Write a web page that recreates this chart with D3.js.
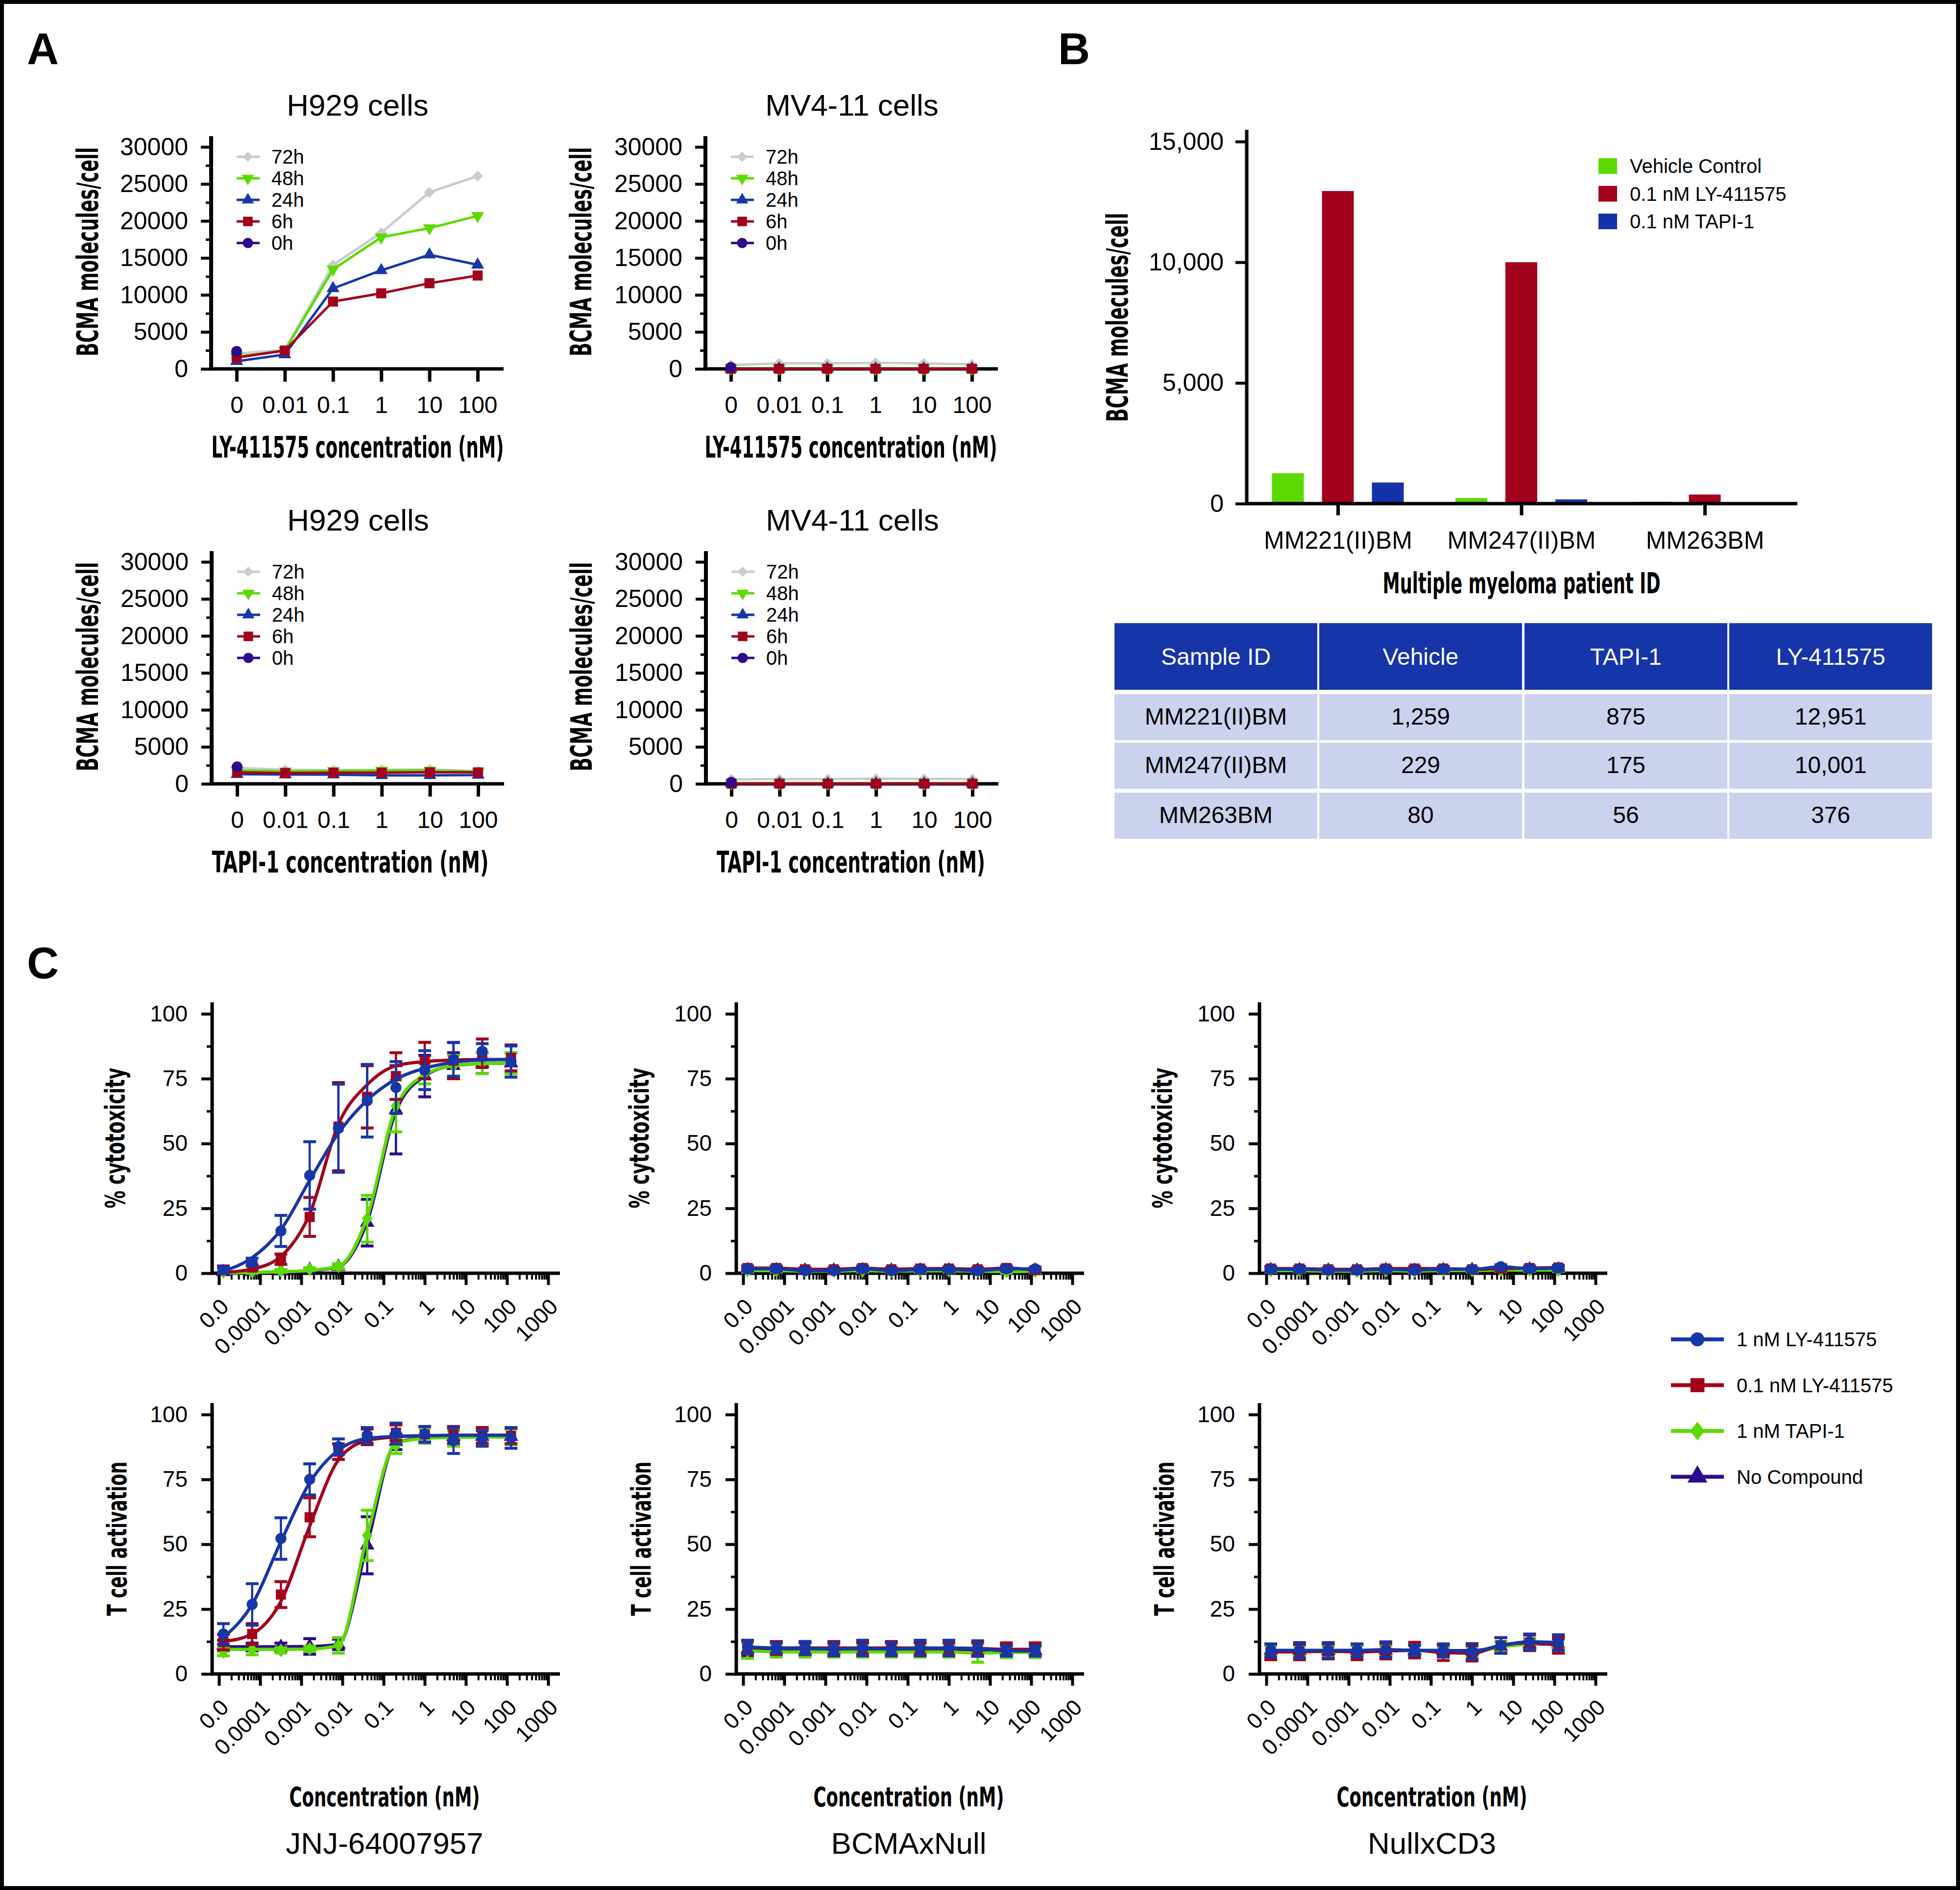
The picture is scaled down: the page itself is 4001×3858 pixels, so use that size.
<!DOCTYPE html>
<html>
<head>
<meta charset="utf-8">
<script src="https://cdn.jsdelivr.net/npm/d3@7"></script>
<style>html,body{margin:0;padding:0;background:#fff;} svg{display:block;}</style>
</head>
<body>
<svg id="fig" width="4001" height="3858" xmlns="http://www.w3.org/2000/svg"></svg>
<script>
// ================= DATA =================
// ---- Panel A : BCMA molecules/cell vs concentration ----
const concA = ["0", "0.01", "0.1", "1", "10", "100"];
const timeLabels = ["72h", "48h", "24h", "6h", "0h"];
const yTicksA = [0, 5000, 10000, 15000, 20000, 25000, 30000];

const h929LY_72h = [2070, 2570, 14070, 18400, 23870, 26070];
const h929LY_48h = [1650, 2480, 13450, 17790, 19030, 20690];
const h929LY_24h = [1030, 1940, 10880, 13320, 15430, 14070];
const h929LY_6h  = [1530, 2480, 9100, 10220, 11580, 12620];
const h929LY_0h  = [2360];

const mv411LY_72h = [530, 740, 740, 825, 740, 620];
const mv411LY_48h = [80, 60, 70, 60, 70, 60];
const mv411LY_24h = [40, 30, 40, 30, 40, 30];
const mv411LY_6h  = [20, 20, 20, 20, 20, 20];
const mv411LY_0h  = [200];

const h929TAPI_72h = [2150, 1900, 1850, 1900, 1950, 1700];
const h929TAPI_48h = [1800, 1700, 1750, 1800, 1800, 1650];
const h929TAPI_24h = [1300, 1250, 1250, 1150, 1150, 1200];
const h929TAPI_6h  = [1550, 1450, 1500, 1500, 1550, 1550];
const h929TAPI_0h  = [2300];

const mv411TAPI_72h = [600, 640, 650, 700, 680, 650];
const mv411TAPI_48h = [80, 60, 70, 60, 70, 60];
const mv411TAPI_24h = [40, 30, 40, 30, 40, 30];
const mv411TAPI_6h  = [20, 20, 20, 20, 20, 20];
const mv411TAPI_0h  = [200];

// ---- Panel B : patient samples ----
const patients = ["MM221(II)BM", "MM247(II)BM", "MM263BM"];
const bSeries = ["Vehicle Control", "0.1 nM LY-411575", "0.1 nM TAPI-1"];
const vehicleVals = [1259, 229, 80];
const lyVals = [12951, 10001, 376];
const tapiVals = [875, 175, 56];
const yTicksB = [0, 5000, 10000, 15000];
const tableHeader = ["Sample ID", "Vehicle", "TAPI-1", "LY-411575"];

// ---- Panel C : dose response ----
const concC = [0.0000128, 0.000064, 0.00032, 0.0016, 0.008, 0.04, 0.2, 1, 5, 25, 125];
const seriesC = ["1 nM LY-411575", "0.1 nM LY-411575", "1 nM TAPI-1", "No Compound"];
const xTickValsC = [1e-5, 1e-4, 1e-3, 1e-2, 1e-1, 1, 10, 100, 1000];
const xTickLabelsC = ["0.0", "0.0001", "0.001", "0.01", "0.1", "1", "10", "100", "1000"];
const yTicksC = [0, 25, 50, 75, 100];

// JNJ-64007957 – % cytotoxicity
const jnjCyt_ly1     = [1.3, 4.3, 16.3, 37.7, 55.9, 66.5, 71.6, 78.3, 82.4, 85.5, 81.6];
const jnjCyt_ly1Err  = [1.0, 1.5, 6.0, 13.0, 17.0, 14.0, 10.0, 7.5, 6.5, 3.0, 6.0];
const jnjCyt_ly1Fit  = [0.8, 6.0, 16.8, 35.8, 54.0, 66.7, 74.8, 79.0, 81.3, 82.2, 82.4];
const jnjCyt_ly01    = [1.3, 2.2, 5.4, 21.7, 56.5, 68.0, 76.0, 82.0, 82.0, 84.8, 83.0];
const jnjCyt_ly01Err = [1.5, 1.0, 2.0, 7.5, 17.0, 12.0, 9.0, 7.0, 7.0, 5.5, 5.0];
const jnjCyt_ly01Fit = [0.3, 1.6, 6.5, 22.8, 57.5, 72.7, 80.0, 81.6, 82.2, 82.4, 82.4];
const jnjCyt_tapi    = [0.5, 0.5, 0.9, 1.6, 2.7, 21.0, 64.5, 77.0, 80.0, 81.0, 81.0];
const jnjCyt_tapiErr = [0.5, 0.5, 0.5, 0.5, 1.0, 9.0, 10.0, 4.0, 4.0, 4.0, 4.0];
const jnjCyt_tapiFit = [0.0, 0.3, 0.5, 1.1, 2.7, 21.7, 64.0, 76.5, 80.0, 80.8, 81.0];
const jnjCyt_none    = [0.5, 0.5, 0.8, 1.4, 2.5, 19.5, 63.0, 76.0, 80.0, 81.0, 81.0];
const jnjCyt_noneErr = [0.5, 0.5, 0.5, 0.5, 1.0, 9.0, 17.0, 8.0, 5.0, 4.0, 4.0];
const jnjCyt_noneFit = [0.0, 0.3, 0.5, 1.0, 2.5, 20.0, 62.5, 76.0, 80.0, 80.8, 81.0];

// JNJ-64007957 – T cell activation
const jnjAct_ly1     = [15.4, 26.8, 52.2, 75.0, 87.6, 92.0, 92.7, 92.4, 90.0, 90.8, 91.0];
const jnjAct_ly1Err  = [4.0, 8.0, 8.0, 6.0, 3.0, 3.0, 4.0, 3.0, 5.0, 3.0, 4.0];
const jnjAct_ly1Fit  = [14.0, 26.8, 51.0, 73.7, 86.3, 90.8, 91.6, 91.9, 92.0, 92.0, 92.0];
const jnjAct_ly01    = [12.3, 15.4, 30.6, 60.4, 85.7, 91.4, 93.0, 92.4, 92.4, 92.0, 91.8];
const jnjAct_ly01Err = [3.0, 4.0, 5.0, 7.5, 3.0, 3.0, 3.0, 3.0, 3.0, 3.0, 3.0];
const jnjAct_ly01Fit = [12.5, 15.4, 28.0, 57.0, 82.5, 90.0, 91.4, 91.8, 92.0, 92.0, 92.0];
const jnjAct_tapi    = [8.5, 9.4, 9.1, 9.7, 11.0, 53.4, 88.0, 92.0, 90.8, 91.4, 91.4];
const jnjAct_tapiErr = [1.5, 2.0, 1.0, 1.0, 3.0, 9.7, 3.0, 3.0, 3.0, 3.0, 3.0];
const jnjAct_tapiFit = [9.5, 9.5, 9.5, 9.6, 11.0, 53.4, 88.9, 90.8, 91.2, 91.3, 91.3];
const jnjAct_none    = [11.0, 10.4, 10.4, 10.6, 11.4, 49.6, 89.5, 92.0, 91.5, 91.5, 91.5];
const jnjAct_noneErr = [2.0, 1.5, 1.5, 3.0, 2.0, 11.0, 3.0, 3.0, 3.0, 3.0, 3.0];
const jnjAct_noneFit = [10.5, 10.5, 10.5, 10.6, 11.4, 50.0, 89.0, 91.0, 91.3, 91.4, 91.4];

// BCMAxNull
const bcmaCyt_ly1     = [1.7, 1.7, 1.0, 1.0, 1.7, 1.0, 1.4, 1.4, 1.0, 1.7, 1.7];
const bcmaCyt_ly1Err  = [0.8, 0.8, 0.6, 0.6, 0.8, 0.6, 0.6, 0.6, 0.6, 0.8, 0.6];
const bcmaCyt_ly01    = [2.0, 2.0, 1.5, 1.5, 2.0, 1.5, 1.8, 1.8, 1.5, 2.0, 1.2];
const bcmaCyt_ly01Err = [0.8, 0.8, 0.6, 0.6, 0.8, 0.6, 0.6, 0.6, 0.6, 0.8, 0.6];
const bcmaCyt_tapi    = [1.0, 1.0, 0.8, 0.8, 1.0, 0.8, 0.9, 0.9, 0.8, 0.6, 0.8];
const bcmaCyt_tapiErr = [0.5, 0.5, 0.5, 0.5, 0.5, 0.5, 0.5, 0.5, 0.5, 0.5, 0.5];
const bcmaCyt_none    = [1.2, 1.2, 1.0, 1.0, 1.2, 1.0, 1.1, 1.1, 1.0, 1.0, 1.0];
const bcmaCyt_noneErr = [0.5, 0.5, 0.5, 0.5, 0.5, 0.5, 0.5, 0.5, 0.5, 0.5, 0.5];

const bcmaAct_ly1     = [10.5, 10.0, 10.0, 9.5, 10.0, 9.5, 10.0, 10.0, 9.8, 8.9, 8.9];
const bcmaAct_ly1Err  = [2.5, 2.0, 2.5, 2.5, 3.0, 2.5, 3.0, 3.0, 3.0, 2.0, 2.0];
const bcmaAct_ly01    = [10.2, 10.0, 10.0, 10.0, 10.0, 10.0, 10.0, 9.8, 9.8, 9.5, 9.5];
const bcmaAct_ly01Err = [2.5, 2.5, 2.5, 2.5, 2.5, 2.5, 2.5, 2.5, 2.5, 2.5, 2.5];
const bcmaAct_tapi    = [9.0, 8.5, 8.5, 8.5, 8.5, 8.5, 8.5, 8.5, 8.0, 8.3, 8.3];
const bcmaAct_tapiErr = [3.0, 2.0, 2.0, 2.0, 2.0, 2.0, 2.0, 2.0, 3.5, 2.0, 2.0];
const bcmaAct_none    = [9.5, 9.5, 9.5, 9.3, 9.5, 9.5, 9.5, 9.5, 9.3, 9.0, 9.0];
const bcmaAct_noneErr = [2.5, 2.5, 2.5, 2.5, 2.5, 2.5, 2.5, 2.5, 2.5, 2.5, 2.5];

// NullxCD3
const nullCyt_ly1     = [1.5, 1.5, 1.2, 1.2, 1.5, 1.2, 1.5, 1.5, 2.5, 1.8, 2.0];
const nullCyt_ly1Err  = [0.8, 0.8, 0.6, 0.6, 0.8, 0.6, 0.6, 0.6, 0.8, 0.8, 0.8];
const nullCyt_ly01    = [1.8, 1.8, 1.5, 1.5, 1.8, 1.8, 1.8, 1.5, 1.8, 2.0, 2.2];
const nullCyt_ly01Err = [0.8, 0.8, 0.6, 0.6, 0.8, 0.8, 0.8, 0.6, 0.8, 0.8, 0.8];
const nullCyt_tapi    = [1.0, 1.0, 0.8, 0.8, 1.0, 0.8, 1.0, 1.0, 1.2, 1.2, 1.2];
const nullCyt_tapiErr = [0.5, 0.5, 0.5, 0.5, 0.5, 0.5, 0.5, 0.5, 0.5, 0.5, 0.5];
const nullCyt_none    = [1.2, 1.2, 1.0, 1.0, 1.2, 1.0, 1.2, 1.2, 1.5, 1.5, 1.5];
const nullCyt_noneErr = [0.5, 0.5, 0.5, 0.5, 0.5, 0.5, 0.5, 0.5, 0.5, 0.5, 0.5];

const nullAct_ly1     = [9.1, 9.1, 9.1, 9.1, 9.4, 9.1, 9.1, 8.7, 11.0, 12.4, 12.1];
const nullAct_ly1Err  = [2.5, 3.0, 3.0, 2.5, 3.0, 2.0, 2.5, 3.0, 3.0, 3.0, 3.0];
const nullAct_ly01    = [8.5, 8.5, 8.8, 8.5, 8.8, 9.2, 8.2, 8.0, 11.0, 12.0, 11.0];
const nullAct_ly01Err = [3.0, 3.0, 3.0, 3.0, 3.0, 3.0, 3.0, 3.0, 3.0, 3.0, 3.0];
const nullAct_tapi    = [9.0, 9.0, 8.5, 9.0, 9.0, 9.0, 8.5, 8.5, 10.5, 11.5, 12.0];
const nullAct_tapiErr = [2.0, 2.0, 2.0, 2.0, 2.0, 2.0, 2.0, 2.0, 2.0, 2.0, 2.0];
const nullAct_none    = [9.0, 9.0, 9.0, 9.0, 9.0, 9.0, 9.0, 9.0, 10.5, 11.5, 11.5];
const nullAct_noneErr = [2.0, 2.0, 2.0, 2.0, 2.0, 2.0, 2.0, 2.0, 2.0, 2.0, 2.0];

// ================= STYLE =================
const FONT = "'Liberation Sans', Arial, Helvetica, sans-serif";
const COND = "'Liberation Sans Narrow', 'DejaVu Sans Condensed', 'Liberation Sans', sans-serif";
const GRAY = "#C8CCD2", GREEN = "#5CDA00", BLUE = "#1736A8", RED = "#A3001B", PURPLE = "#2E0A8C";

const diamondSq = {draw(ctx, size){const r = Math.sqrt(size/2); ctx.moveTo(0,-r); ctx.lineTo(r,0); ctx.lineTo(0,r); ctx.lineTo(-r,0); ctx.closePath();}};
const diamondTall = {draw(ctx, size){const a = Math.sqrt(size/2.6), b = 1.3*a; ctx.moveTo(0,-b); ctx.lineTo(a,0); ctx.lineTo(0,b); ctx.lineTo(-a,0); ctx.closePath();}};
const triUp = {draw(ctx, size){const y = -Math.sqrt(size/(Math.sqrt(3)*3)); ctx.moveTo(0, y*2); ctx.lineTo(-Math.sqrt(3)*y, -y); ctx.lineTo(Math.sqrt(3)*y, -y); ctx.closePath();}};
const triDown = {draw(ctx, size){const y = -Math.sqrt(size/(Math.sqrt(3)*3)); ctx.moveTo(0, -y*2); ctx.lineTo(-Math.sqrt(3)*y, y); ctx.lineTo(Math.sqrt(3)*y, y); ctx.closePath();}};

const styleA = {
  "72h": {color: GRAY, sym: diamondSq, size: 250},
  "48h": {color: GREEN, sym: triDown, size: 300},
  "24h": {color: BLUE, sym: triUp, size: 300},
  "6h":  {color: RED, sym: d3.symbolSquare, size: 420},
  "0h":  {color: PURPLE, sym: d3.symbolCircle, size: 380}
};
const styleC = {
  "1 nM LY-411575":   {color: BLUE, sym: d3.symbolCircle, size: 400, lsize: 640},
  "0.1 nM LY-411575": {color: RED, sym: d3.symbolSquare, size: 430, lsize: 820},
  "1 nM TAPI-1":      {color: GREEN, sym: diamondTall, size: 300, lsize: 560},
  "No Compound":      {color: PURPLE, sym: triUp, size: 380, lsize: 720}
};
const colorB = {"Vehicle Control": GREEN, "0.1 nM LY-411575": RED, "0.1 nM TAPI-1": "#1533A8"};

const svg = d3.select("#fig");
svg.append("rect").attr("width", 4001).attr("height", 3858).attr("fill", "#fff");

function styleAxis(sel, fs, tw){
  sel.select(".domain").remove();
  sel.attr("font-family", FONT).attr("font-size", fs);
  sel.selectAll("line").attr("stroke", "#000").attr("stroke-width", tw || 6);
  sel.selectAll("text").attr("fill", "#000");
}
function condText(g, x, y, str, len, size, rot){
  const t = g.append("text").attr("font-family", COND).attr("font-weight", "bold")
    .attr("font-size", size).attr("text-anchor", "middle")
    .attr("textLength", len).attr("lengthAdjust", "spacingAndGlyphs").attr("fill", "#000").text(str);
  if (rot) t.attr("transform", `translate(${x},${y}) rotate(-90)`);
  else t.attr("x", x).attr("y", y);
  return t;
}
function marker(g, x, y, st, size){
  return g.append("path").attr("d", d3.symbol().type(st.sym).size(size)())
    .attr("transform", `translate(${x},${y})`).attr("fill", st.color);
}

// ================= PANEL LETTERS =================
[["A", 55, 131], ["B", 2160, 131], ["C", 55, 1997]].forEach(([t, x, y]) => {
  svg.append("text").attr("x", x).attr("y", y).attr("font-family", FONT).attr("font-weight", "bold")
    .attr("font-size", 90).text(t);
});

// ================= PANEL A =================
const panelsA = [
  {title: "H929 cells", xlabel: "LY-411575 concentration (nM)", series: [h929LY_72h, h929LY_48h, h929LY_24h, h929LY_6h, h929LY_0h], ax: 431, zy: 753, xlc: 730, xlLen: 597, ylx: 200},
  {title: "MV4-11 cells", xlabel: "LY-411575 concentration (nM)", series: [mv411LY_72h, mv411LY_48h, mv411LY_24h, mv411LY_6h, mv411LY_0h], ax: 1440, zy: 753, xlc: 1737, xlLen: 597, ylx: 1207},
  {title: "H929 cells", xlabel: "TAPI-1 concentration (nM)", series: [h929TAPI_72h, h929TAPI_48h, h929TAPI_24h, h929TAPI_6h, h929TAPI_0h], ax: 432, zy: 1600, xlc: 715, xlLen: 565, ylx: 200},
  {title: "MV4-11 cells", xlabel: "TAPI-1 concentration (nM)", series: [mv411TAPI_72h, mv411TAPI_48h, mv411TAPI_24h, mv411TAPI_6h, mv411TAPI_0h], ax: 1441, zy: 1600, xlc: 1737, xlLen: 548, ylx: 1208}
];
const yMinorA = d3.range(2500, 30000, 5000);

panelsA.forEach(p => {
  const g = svg.append("g");
  const x = d3.scalePoint().domain(concA).range([p.ax + 52, p.ax + 544]);
  const y = d3.scaleLinear().domain([0, 30000]).range([p.zy, p.zy - 453]);

  g.append("text").attr("x", p.ax + 299).attr("y", p.zy - 517).attr("text-anchor", "middle")
    .attr("font-family", FONT).attr("font-size", 62).text(p.title);

  const ya = g.append("g").attr("transform", `translate(${p.ax},0)`)
    .call(d3.axisLeft(y).tickValues(yTicksA).tickSize(21).tickPadding(26).tickFormat(d3.format("d")));
  styleAxis(ya, 50);
  const ym = g.append("g").attr("transform", `translate(${p.ax},0)`)
    .call(d3.axisLeft(y).tickValues(yMinorA).tickSize(11).tickFormat(""));
  styleAxis(ym, 10, 5);
  const xa = g.append("g").attr("transform", `translate(0,${p.zy})`)
    .call(d3.axisBottom(x).tickSize(26).tickPadding(30));
  styleAxis(xa, 48, 7);

  g.append("line").attr("x1", p.ax).attr("x2", p.ax).attr("y1", p.zy - 475).attr("y2", p.zy + 3)
    .attr("stroke", "#000").attr("stroke-width", 8);
  g.append("line").attr("x1", p.ax - 4).attr("x2", p.ax + 597).attr("y1", p.zy).attr("y2", p.zy)
    .attr("stroke", "#000").attr("stroke-width", 7);

  const line = d3.line().x(d => x(d.c)).y(d => y(d.v));
  timeLabels.forEach((t, i) => {
    const st = styleA[t];
    const pts = p.series[i].map((v, j) => ({c: concA[j], v}));
    if (pts.length > 1)
      g.append("path").attr("d", line(pts)).attr("fill", "none").attr("stroke", st.color).attr("stroke-width", 5);
    pts.forEach(d => marker(g, x(d.c), y(d.v), st, st.size));
  });

  // legend
  timeLabels.forEach((t, i) => {
    const st = styleA[t];
    const ly = p.zy - 433 + i * 44;
    g.append("line").attr("x1", p.ax + 52).attr("x2", p.ax + 99).attr("y1", ly).attr("y2", ly)
      .attr("stroke", st.color).attr("stroke-width", 5);
    marker(g, p.ax + 75, ly, st, st.size * 0.9);
    g.append("text").attr("x", p.ax + 123).attr("y", ly + 14).attr("font-family", FONT)
      .attr("font-size", 40).text(t);
  });

  condText(g, p.ylx, p.zy - 239, "BCMA molecules/cell", 427, 60, true);
  condText(g, p.xlc, p.zy + 181, p.xlabel, p.xlLen, 60, false);
});

// ================= PANEL B =================
(function(){
  const g = svg.append("g");
  const ax = 2545, zy = 1028;
  const y = d3.scaleLinear().domain([0, 15000]).range([zy, 289]);
  const x = d3.scalePoint().domain(patients).range([2731, 3480]);
  const s = d3.scaleBand().domain(bSeries).range([-134.5, 134.5]).paddingInner(0.363);
  const vals = [vehicleVals, lyVals, tapiVals];

  bSeries.forEach((sn, k) => {
    patients.forEach((pt, i) => {
      g.append("rect").attr("x", x(pt) + s(sn)).attr("width", s.bandwidth())
        .attr("y", y(vals[k][i])).attr("height", zy - y(vals[k][i])).attr("fill", colorB[sn]);
    });
  });

  const ya = g.append("g").attr("transform", `translate(${ax},0)`)
    .call(d3.axisLeft(y).tickValues(yTicksB).tickSize(23).tickPadding(24).tickFormat(d3.format(",")));
  styleAxis(ya, 50);
  const xa = g.append("g").attr("transform", `translate(0,${zy})`)
    .call(d3.axisBottom(x).tickSize(24).tickPadding(32));
  styleAxis(xa, 50, 7);
  g.append("line").attr("x1", ax).attr("x2", ax).attr("y1", 265).attr("y2", zy + 3).attr("stroke", "#000").attr("stroke-width", 7);
  g.append("line").attr("x1", ax - 3).attr("x2", 3669).attr("y1", zy).attr("y2", zy).attr("stroke", "#000").attr("stroke-width", 7);

  bSeries.forEach((sn, k) => {
    const ly = 339 + k * 56.5;
    g.append("rect").attr("x", 3263).attr("y", ly - 16).attr("width", 38).attr("height", 32).attr("fill", colorB[sn]);
    g.append("text").attr("x", 3327).attr("y", ly + 14).attr("font-family", FONT).attr("font-size", 40).text(sn);
  });

  condText(g, 2302, 648, "BCMA molecules/cell", 427, 60, true);
  condText(g, 3106, 1211, "Multiple myeloma patient ID", 567, 58, false);

  // table
  const colX = [2275, 2693, 3112, 3530], colW = 414;
  const rowTop = [1417, 1516, 1618], rowH = 94;
  const fmt = d3.format(",");
  tableHeader.forEach((h, c) => {
    g.append("rect").attr("x", colX[c]).attr("y", 1272).attr("width", colW).attr("height", 136).attr("fill", "#1535A8");
    g.append("text").attr("x", colX[c] + colW / 2).attr("y", 1357).attr("text-anchor", "middle")
      .attr("font-family", FONT).attr("font-size", 48).attr("fill", "#fff").text(h);
  });
  patients.forEach((pt, r) => {
    const cells = [pt, fmt(vehicleVals[r]), fmt(tapiVals[r]), fmt(lyVals[r])];
    cells.forEach((v, c) => {
      g.append("rect").attr("x", colX[c]).attr("y", rowTop[r]).attr("width", colW).attr("height", rowH).attr("fill", "#CAD2EE");
      g.append("text").attr("x", colX[c] + colW / 2).attr("y", rowTop[r] + 62).attr("text-anchor", "middle")
        .attr("font-family", FONT).attr("font-size", 48).attr("fill", "#000").text(v);
    });
  });
})();

// ================= PANEL C =================
const colAx = [433, 1503, 2571];
const rowZy = [2599, 3417];
const panelsC = [
  {col: 0, row: 0, ylabel: "% cytotoxicity", data: [
    [jnjCyt_ly1, jnjCyt_ly1Err, jnjCyt_ly1Fit], [jnjCyt_ly01, jnjCyt_ly01Err, jnjCyt_ly01Fit],
    [jnjCyt_tapi, jnjCyt_tapiErr, jnjCyt_tapiFit], [jnjCyt_none, jnjCyt_noneErr, jnjCyt_noneFit]]},
  {col: 1, row: 0, ylabel: "% cytotoxicity", data: [
    [bcmaCyt_ly1, bcmaCyt_ly1Err], [bcmaCyt_ly01, bcmaCyt_ly01Err], [bcmaCyt_tapi, bcmaCyt_tapiErr], [bcmaCyt_none, bcmaCyt_noneErr]]},
  {col: 2, row: 0, ylabel: "% cytotoxicity", data: [
    [nullCyt_ly1, nullCyt_ly1Err], [nullCyt_ly01, nullCyt_ly01Err], [nullCyt_tapi, nullCyt_tapiErr], [nullCyt_none, nullCyt_noneErr]]},
  {col: 0, row: 1, ylabel: "T cell activation", sub: "JNJ-64007957", data: [
    [jnjAct_ly1, jnjAct_ly1Err, jnjAct_ly1Fit], [jnjAct_ly01, jnjAct_ly01Err, jnjAct_ly01Fit],
    [jnjAct_tapi, jnjAct_tapiErr, jnjAct_tapiFit], [jnjAct_none, jnjAct_noneErr, jnjAct_noneFit]]},
  {col: 1, row: 1, ylabel: "T cell activation", sub: "BCMAxNull", data: [
    [bcmaAct_ly1, bcmaAct_ly1Err], [bcmaAct_ly01, bcmaAct_ly01Err], [bcmaAct_tapi, bcmaAct_tapiErr], [bcmaAct_none, bcmaAct_noneErr]]},
  {col: 2, row: 1, ylabel: "T cell activation", sub: "NullxCD3", data: [
    [nullAct_ly1, nullAct_ly1Err], [nullAct_ly01, nullAct_ly01Err], [nullAct_tapi, nullAct_tapiErr], [nullAct_none, nullAct_noneErr]]}
];
const minorC = [];
for (let e = -5; e < 3; e++) for (let k = 2; k <= 9; k++) minorC.push(k * Math.pow(10, e));

panelsC.forEach(p => {
  const g = svg.append("g");
  const ax = colAx[p.col], zy = rowZy[p.row];
  const x = d3.scaleLog().domain([1e-5, 1e3]).range([ax + 14, ax + 686]);
  const y = d3.scaleLinear().domain([0, 100]).range([zy, zy - 529.5]);

  const ya = g.append("g").attr("transform", `translate(${ax},0)`)
    .call(d3.axisLeft(y).tickValues(yTicksC).tickSize(22).tickPadding(28));
  styleAxis(ya, 46);
  const ym = g.append("g").attr("transform", `translate(${ax},0)`)
    .call(d3.axisLeft(y).tickValues([12.5, 37.5, 62.5, 87.5]).tickSize(11).tickFormat(""));
  styleAxis(ym, 10, 5);
  const xm = g.append("g").attr("transform", `translate(0,${zy})`)
    .call(d3.axisBottom(x).tickValues(minorC).tickSize(13).tickFormat(""));
  styleAxis(xm, 10, 4);
  const xa = g.append("g").attr("transform", `translate(0,${zy})`)
    .call(d3.axisBottom(x).tickValues(xTickValsC).tickSize(24).tickFormat((d, i) => xTickLabelsC[i]));
  styleAxis(xa, 45, 6);
  xa.selectAll("text").attr("x", 22).attr("y", 71).attr("dy", 0).attr("text-anchor", "end")
    .attr("transform", "rotate(-45,22,71)");

  g.append("line").attr("x1", ax).attr("x2", ax).attr("y1", zy - 553).attr("y2", zy + 3).attr("stroke", "#000").attr("stroke-width", 7);
  g.append("line").attr("x1", ax - 3).attr("x2", ax + 710).attr("y1", zy).attr("y2", zy).attr("stroke", "#000").attr("stroke-width", 7);

  const line = d3.line().x(d => x(d.c)).y(d => y(d.v)).curve(d3.curveMonotoneX);
  const order = [3, 2, 1, 0];
  order.forEach(k => {
    const st = styleC[seriesC[k]];
    const [vals, errs, fit] = p.data[k];
    const pts = vals.map((v, j) => ({c: concC[j], v, e: errs[j]}));
    const curve = (fit || vals).map((v, j) => ({c: concC[j], v}));
    g.append("path").attr("d", line(curve)).attr("fill", "none").attr("stroke", st.color).attr("stroke-width", 6.5);
    pts.forEach(d => {
      const cx = x(d.c), y1 = y(Math.max(0, d.v - d.e)), y2 = y(d.v + d.e);
      g.append("line").attr("x1", cx).attr("x2", cx).attr("y1", y1).attr("y2", y2).attr("stroke", st.color).attr("stroke-width", 4.5);
      [y1, y2].forEach(yy => g.append("line").attr("x1", cx - 13).attr("x2", cx + 13).attr("y1", yy).attr("y2", yy)
        .attr("stroke", st.color).attr("stroke-width", 6));
      marker(g, cx, y(d.v), st, st.size);
    });
  });

  const ylBase = p.row === 0 ? 254 : 258;
  const ylLen = p.row === 0 ? 287 : 315;
  const ylCy = p.row === 0 ? 2323 : 3141;
  condText(g, ax - 433 + ylBase, ylCy, p.ylabel, ylLen, 56, true);
  if (p.row === 1) {
    condText(g, ax + 352, 3687, "Concentration (nM)", 389, 56, false);
    g.append("text").attr("x", ax + 352).attr("y", 3784).attr("text-anchor", "middle")
      .attr("font-family", FONT).attr("font-size", 62).text(p.sub);
  }
});

// legend C
seriesC.forEach((sn, i) => {
  const st = styleC[sn];
  const ly = 2734 + i * 93.5;
  svg.append("line").attr("x1", 3411).attr("x2", 3519).attr("y1", ly).attr("y2", ly).attr("stroke", st.color).attr("stroke-width", 8);
  marker(svg, 3465, ly, st, st.lsize);
  svg.append("text").attr("x", 3545).attr("y", ly + 14).attr("font-family", FONT).attr("font-size", 40).text(sn);
});

// outer frame
svg.append("rect").attr("x", 4).attr("y", 4).attr("width", 3993).attr("height", 3850)
  .attr("fill", "none").attr("stroke", "#000").attr("stroke-width", 8);
</script>
</body>
</html>
